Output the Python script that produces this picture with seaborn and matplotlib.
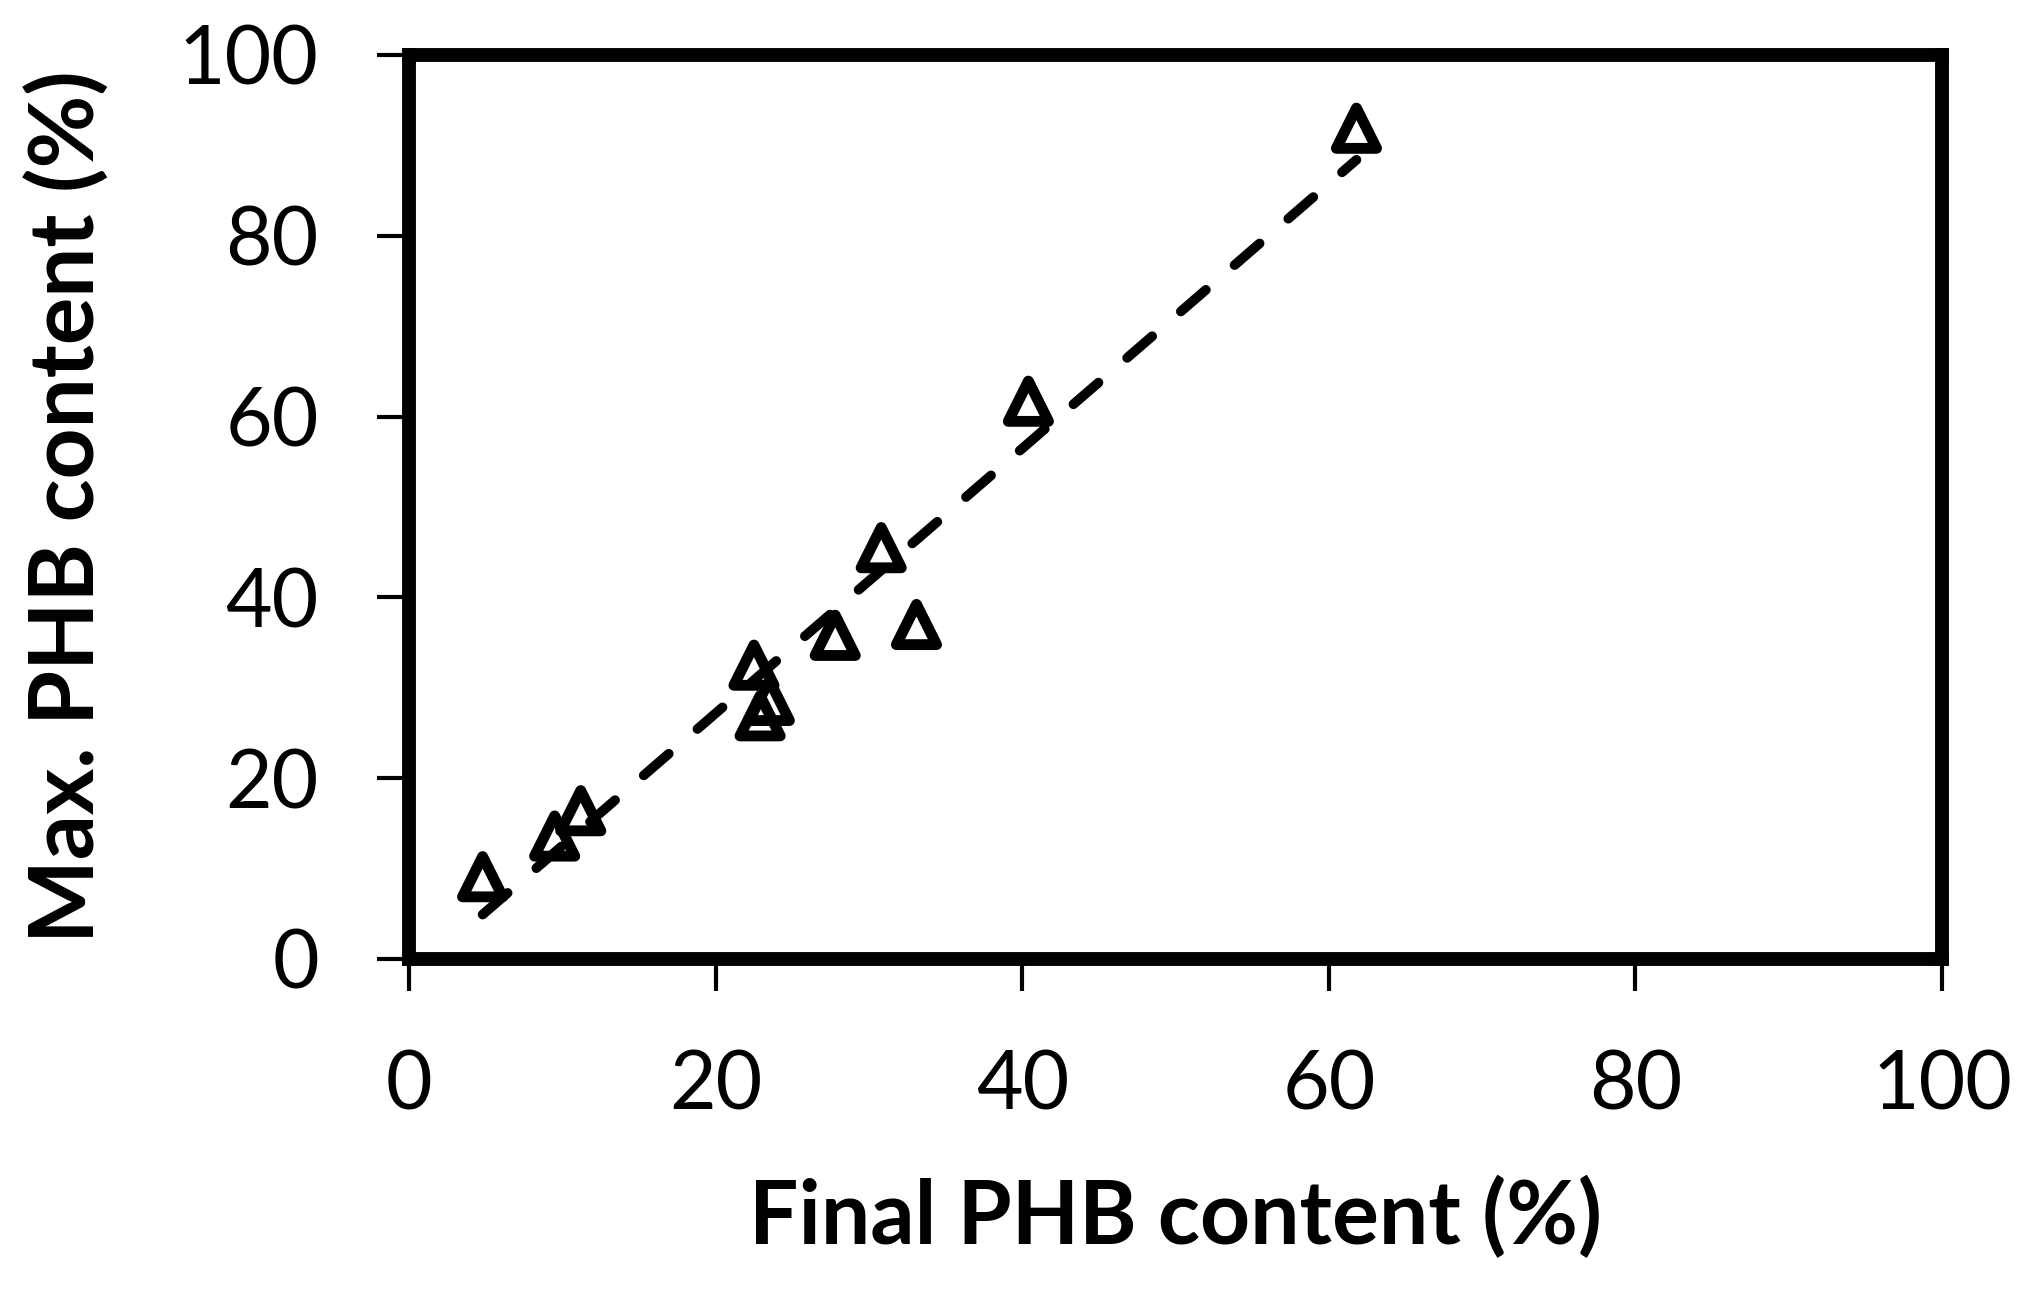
import matplotlib

matplotlib.use("Agg")
import matplotlib.pyplot as plt
import numpy as np
import pandas as pd
import seaborn as sns

# Final vs. maximum PHB content
final_phb = [4.8, 9.5, 11.2, 22.5, 22.9, 23.5, 27.8, 30.8, 33.1, 40.4, 61.8]
max_phb = [9.1, 13.6, 16.4, 32.5, 26.9, 28.6, 35.8, 45.5, 37.0, 61.7, 91.9]

ticks = [0, 20, 40, 60, 80, 100]
x_label = "Final PHB content (%)"
y_label = "Max. PHB content (%)"


def main() -> None:
    df = pd.DataFrame({"final": final_phb, "max": max_phb})

    sns.set_theme(style="white")
    plt.rcParams["font.family"] = ["Lato", "DejaVu Sans"]
    plt.rcParams["text.color"] = "black"
    plt.rcParams["axes.labelcolor"] = "black"

    fig = plt.figure(figsize=(20.37, 12.91), dpi=100)
    ax = fig.add_axes([0.2008, 0.2572, 0.7526, 0.7002])

    # linear trendline (dashed), fitted by seaborn over the data range
    sns.regplot(
        data=df, x="final", y="max", ax=ax, scatter=False, ci=None,
        truncate=True,
        line_kws=dict(color="black", lw=7, dashes=(3.4, 3.9),
                      dash_capstyle="round"),
    )
    sns.scatterplot(
        data=df, x="final", y="max", ax=ax, marker="^", s=841,
        facecolor="none", edgecolor="black", linewidth=7.8,
    )
    ax.collections[-1].set_joinstyle("round")

    ax.set_xlim(0, 100)
    ax.set_ylim(0, 100)
    ax.set_xticks(ticks)
    ax.set_yticks(ticks)
    ax.tick_params(axis="both", direction="out", length=23, width=3,
                   color="black", labelsize=58, pad=42, labelcolor="black",
                   bottom=True, left=True)
    for spine in ax.spines.values():
        spine.set_visible(True)
        spine.set_color("black")
        spine.set_linewidth(10)
        spine.set_capstyle("projecting")

    ax.set_xlabel(x_label, fontsize=63, fontweight="bold", labelpad=38,
                  color="black")
    ax.set_ylabel(y_label, fontsize=64, fontweight="bold", labelpad=50,
                  color="black")

    fig.savefig("out.png", dpi=100, facecolor="white")


if __name__ == "__main__":
    main()
